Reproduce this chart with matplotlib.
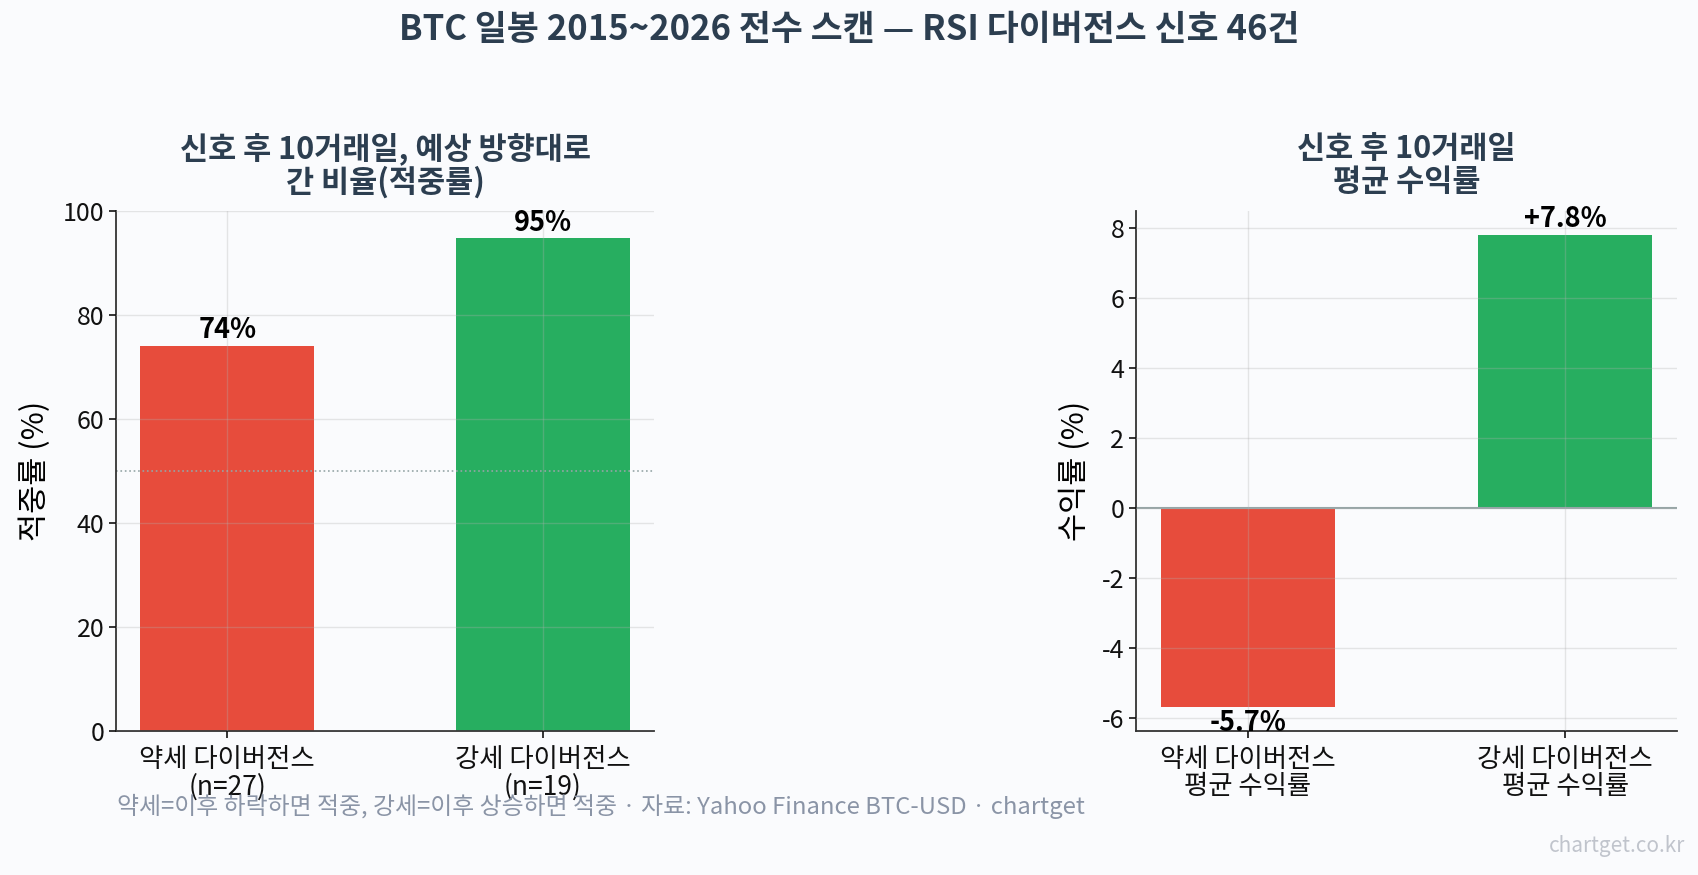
import numpy as np
import matplotlib
matplotlib.use('Agg')
from matplotlib import pyplot as plt

plt.rcParams['font.family'] = ['Noto Sans CJK KR', 'DejaVu Sans']
plt.rcParams['axes.unicode_minus'] = False

# 데이터
hit_labels = ['약세 다이버전스\n(n=27)', '강세 다이버전스\n(n=19)']
hit_rate = [74.1, 94.7]
ret_labels = ['약세 다이버전스\n평균 수익률', '강세 다이버전스\n평균 수익률']
avg_return = [-5.7, 7.8]
bar_colors = ['#e74c3c', '#27ae60']

bg = '#fafbfd'
title_c = '#2c3e50'

fig = plt.figure(figsize=(16.99, 8.75), dpi=100, facecolor=bg)
ax1 = fig.add_axes([0.0683, 0.1646, 0.3167, 0.5944])
ax2 = fig.add_axes([0.6686, 0.1646, 0.3184, 0.5944])

for ax in (ax1, ax2):
    ax.set_facecolor(bg)
    ax.spines['top'].set_visible(False)
    ax.spines['right'].set_visible(False)
    for s in ('left', 'bottom'):
        ax.spines[s].set_color('#333333')
        ax.spines[s].set_linewidth(1.3)
    ax.tick_params(axis='y', labelsize=18, colors='#111111', length=5, width=1.2)
    ax.tick_params(axis='x', labelsize=19, colors='#111111', length=5, width=1.2, pad=6)
    ax.grid(True, color='#b0b0b0', alpha=0.3, linewidth=1)
    ax.set_axisbelow(False)

# 적중률
x = np.arange(len(hit_rate))
ax1.bar(x, hit_rate, width=0.55, color=bar_colors, zorder=1)
ax1.axhline(50, color='#95a5a6', linestyle=':', linewidth=1.2)
ax1.set_ylim(0, 100)
ax1.set_xticks(x)
ax1.set_xticklabels(hit_labels, linespacing=1.0)
ax1.set_ylabel('적중률 (%)', fontsize=22, labelpad=8)
ax1.set_title('신호 후 10거래일, 예상 방향대로\n간 비율(적중률)', fontsize=22,
              fontweight='bold', color=title_c, pad=14, linespacing=1.05)
for xi, v in zip(x, hit_rate):
    ax1.annotate(f'{v:.0f}%', (xi, v), xytext=(0, 1), textcoords='offset points',
                 ha='center', va='bottom', fontsize=19.5, fontweight='bold')

# 평균 수익률
x2 = np.arange(len(avg_return))
ax2.bar(x2, avg_return, width=0.55, color=bar_colors, zorder=1)
ax2.axhline(0, color='#95a5a6', linewidth=1.5)
ax2.set_xticks(x2)
ax2.set_xticklabels(ret_labels, linespacing=1.0)
ax2.set_ylabel('수익률 (%)', fontsize=22, labelpad=8)
ax2.set_title('신호 후 10거래일\n평균 수익률', fontsize=22,
              fontweight='bold', color=title_c, pad=14, linespacing=1.05)
for xi, v in zip(x2, avg_return):
    ax2.annotate(f'{v:+.1f}%' if v > 0 else f'{v:.1f}%', (xi, v),
                 xytext=(0, 1 if v > 0 else -1), textcoords='offset points',
                 ha='center', va='bottom' if v > 0 else 'top',
                 fontsize=19.5, fontweight='bold')

fig.suptitle('BTC 일봉 2015~2026 전수 스캔 — RSI 다이버전스 신호 46건',
             fontsize=25, fontweight='bold', color=title_c, y=0.966, va='center')

fig.text(0.069, 0.078, '약세=이후 하락하면 적중, 강세=이후 상승하면 적중 · 자료: Yahoo Finance BTC-USD · chartget',
         fontsize=17.2, color='#8a94a6', ha='left', va='center')
fig.text(0.992, 0.033, 'chartget.co.kr', fontsize=15, color='#c0c4cc',
         ha='right', va='center')

fig.savefig('out.png', dpi=100, facecolor=bg)
